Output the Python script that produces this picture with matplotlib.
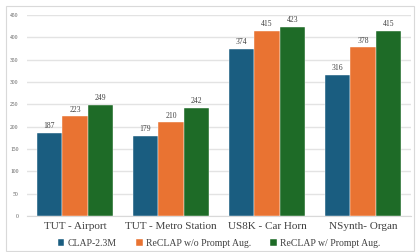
import numpy as np
import matplotlib
matplotlib.use('Agg')
import matplotlib.pyplot as plt
from matplotlib.patches import Rectangle

plt.rcParams['font.family'] = ['Liberation Serif', 'DejaVu Serif']

categories = ['TUT - Airport', 'TUT - Metro Station', 'US8K - Car Horn', 'NSynth- Organ']
series_names = ['CLAP-2.3M', 'ReCLAP w/o Prompt Aug.', 'ReCLAP w/ Prompt Aug.']
clap = [187, 179, 374, 316]
reclap_wo = [223, 210, 415, 378]
reclap_w = [249, 242, 423, 415]
colors = ['#1a5d80', '#e97332', '#1e6b27']

fig = plt.figure(figsize=(4.16, 2.52), dpi=100)
ax = fig.add_axes([0.065, 0.143, 0.923, 0.797])

# light frame round the whole chart
fig.patches.append(Rectangle((0.014, 0.004), 0.982, 0.972, transform=fig.transFigure,
                             fill=False, edgecolor='#d9d9d9', linewidth=0.8))

x = np.arange(len(categories))
w = 0.8 / 3
for i, (vals, name) in enumerate(zip([clap, reclap_wo, reclap_w], series_names)):
    bars = ax.bar(x + (i - 1) * w, vals, w, color=colors[i], label=name,
                  edgecolor='white', linewidth=0.3, zorder=3)
    for b, v in zip(bars, vals):
        ax.text(b.get_x() + b.get_width() / 2, v + 6, str(v), ha='center', va='bottom',
                fontsize=5.5, color='#404040')

ax.set_ylim(0, 450)
ax.set_xlim(-0.5, 3.5)
ax.set_yticks(range(0, 451, 50))
ax.tick_params(axis='y', labelsize=4, colors='#595959', length=0, pad=6)
ax.tick_params(axis='x', labelsize=8, colors='#404040', length=0, pad=4)
ax.set_xticks(x)
ax.set_xticklabels(categories)
ax.grid(axis='y', color='#e3e3e3', linewidth=1.0, zorder=0)
for s in ['top', 'right', 'left']:
    ax.spines[s].set_visible(False)
ax.spines['bottom'].set_color('#d9d9d9')

ax.legend(loc='center', bbox_to_anchor=(0.5, -0.135), ncol=3, frameon=False,
          fontsize=7, handlelength=0.7, handleheight=0.7, handletextpad=0.3,
          columnspacing=2.0, labelcolor='#404040', borderpad=0.1)

fig.savefig('out.png', dpi=100)
